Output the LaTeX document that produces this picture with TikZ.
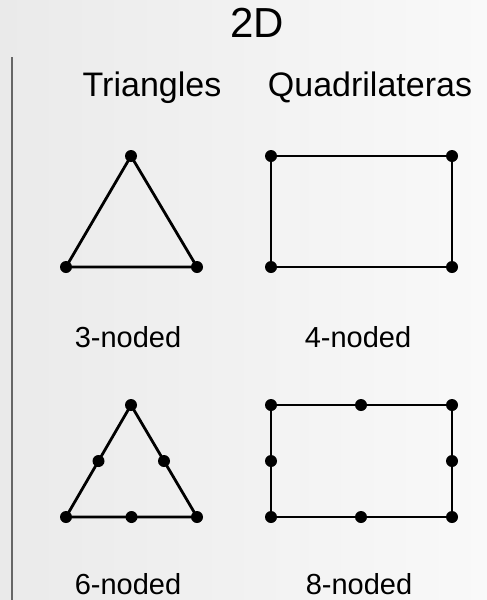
\documentclass[tikz,border=0pt]{standalone}
\usepackage{fontspec}
\setmainfont{Liberation Sans}
\definecolor{bgleft}{HTML}{EAEAEA}
\definecolor{bgright}{HTML}{F9F9F9}
\definecolor{rule}{HTML}{666666}
\begin{document}
\begin{tikzpicture}[x=1pt,y=-1pt,
  dot/.style={circle,fill=black,inner sep=0pt,minimum size=12pt},
  edge/.style={line width=2.8pt,black},
  lbl/.style={anchor=base,inner sep=0pt,font=\fontsize{29}{34}\selectfont},
  head/.style={anchor=base,inner sep=0pt,font=\fontsize{34}{40}\selectfont}]
\useasboundingbox (0,0) rectangle (487,600);
\shade[left color=bgleft,right color=bgright] (0,0) rectangle (487,600);
\draw[rule,line width=2pt] (11.5,57) -- (11.5,600);
% titles
\node[anchor=base,inner sep=0pt,font=\fontsize{42}{48}\selectfont] (title) at (257,37) {2D};
\node[head] (tri) at (152,96) {Triangles};
\node[head] (quad) at (370,96) {Quadrilateras};
% triangle 3-noded
\node[dot] (t1a) at (131,156) {};
\node[dot] (t1b) at (66,267) {};
\node[dot] (t1c) at (197,267) {};
\draw[edge] (t1a.center) -- (t1b.center) -- (t1c.center) -- cycle;
\node[lbl] (l3) at (128,347) {3-noded};
% quad 4-noded
\node[dot] (q1a) at (271,156) {};
\node[dot] (q1b) at (452,156) {};
\node[dot] (q1c) at (452,267) {};
\node[dot] (q1d) at (271,267) {};
\draw[edge] (q1a.center) -- (q1b.center) -- (q1c.center) -- (q1d.center) -- cycle;
\node[lbl] (l4) at (358,347) {4-noded};
% triangle 6-noded
\node[dot] (t2a) at (131,405) {};
\node[dot] (t2b) at (66,517) {};
\node[dot] (t2c) at (197,517) {};
\node[dot] (t2ab) at (98.5,461) {};
\node[dot] (t2bc) at (131.5,517) {};
\node[dot] (t2ca) at (164,461) {};
\draw[edge] (t2a.center) -- (t2ab.center) -- (t2b.center) -- (t2bc.center) -- (t2c.center) -- (t2ca.center) -- cycle;
\node[lbl] (l6) at (128,594) {6-noded};
% quad 8-noded
\node[dot] (q2a) at (271,405) {};
\node[dot] (q2ab) at (361,405) {};
\node[dot] (q2b) at (452,405) {};
\node[dot] (q2bc) at (452,461) {};
\node[dot] (q2c) at (452,517) {};
\node[dot] (q2cd) at (361,517) {};
\node[dot] (q2d) at (271,517) {};
\node[dot] (q2da) at (271,461) {};
\draw[edge] (q2a.center) -- (q2ab.center) -- (q2b.center) -- (q2bc.center) -- (q2c.center) -- (q2cd.center) -- (q2d.center) -- (q2da.center) -- cycle;
\node[lbl] (l8) at (359,594) {8-noded};
\end{tikzpicture}
\end{document}
